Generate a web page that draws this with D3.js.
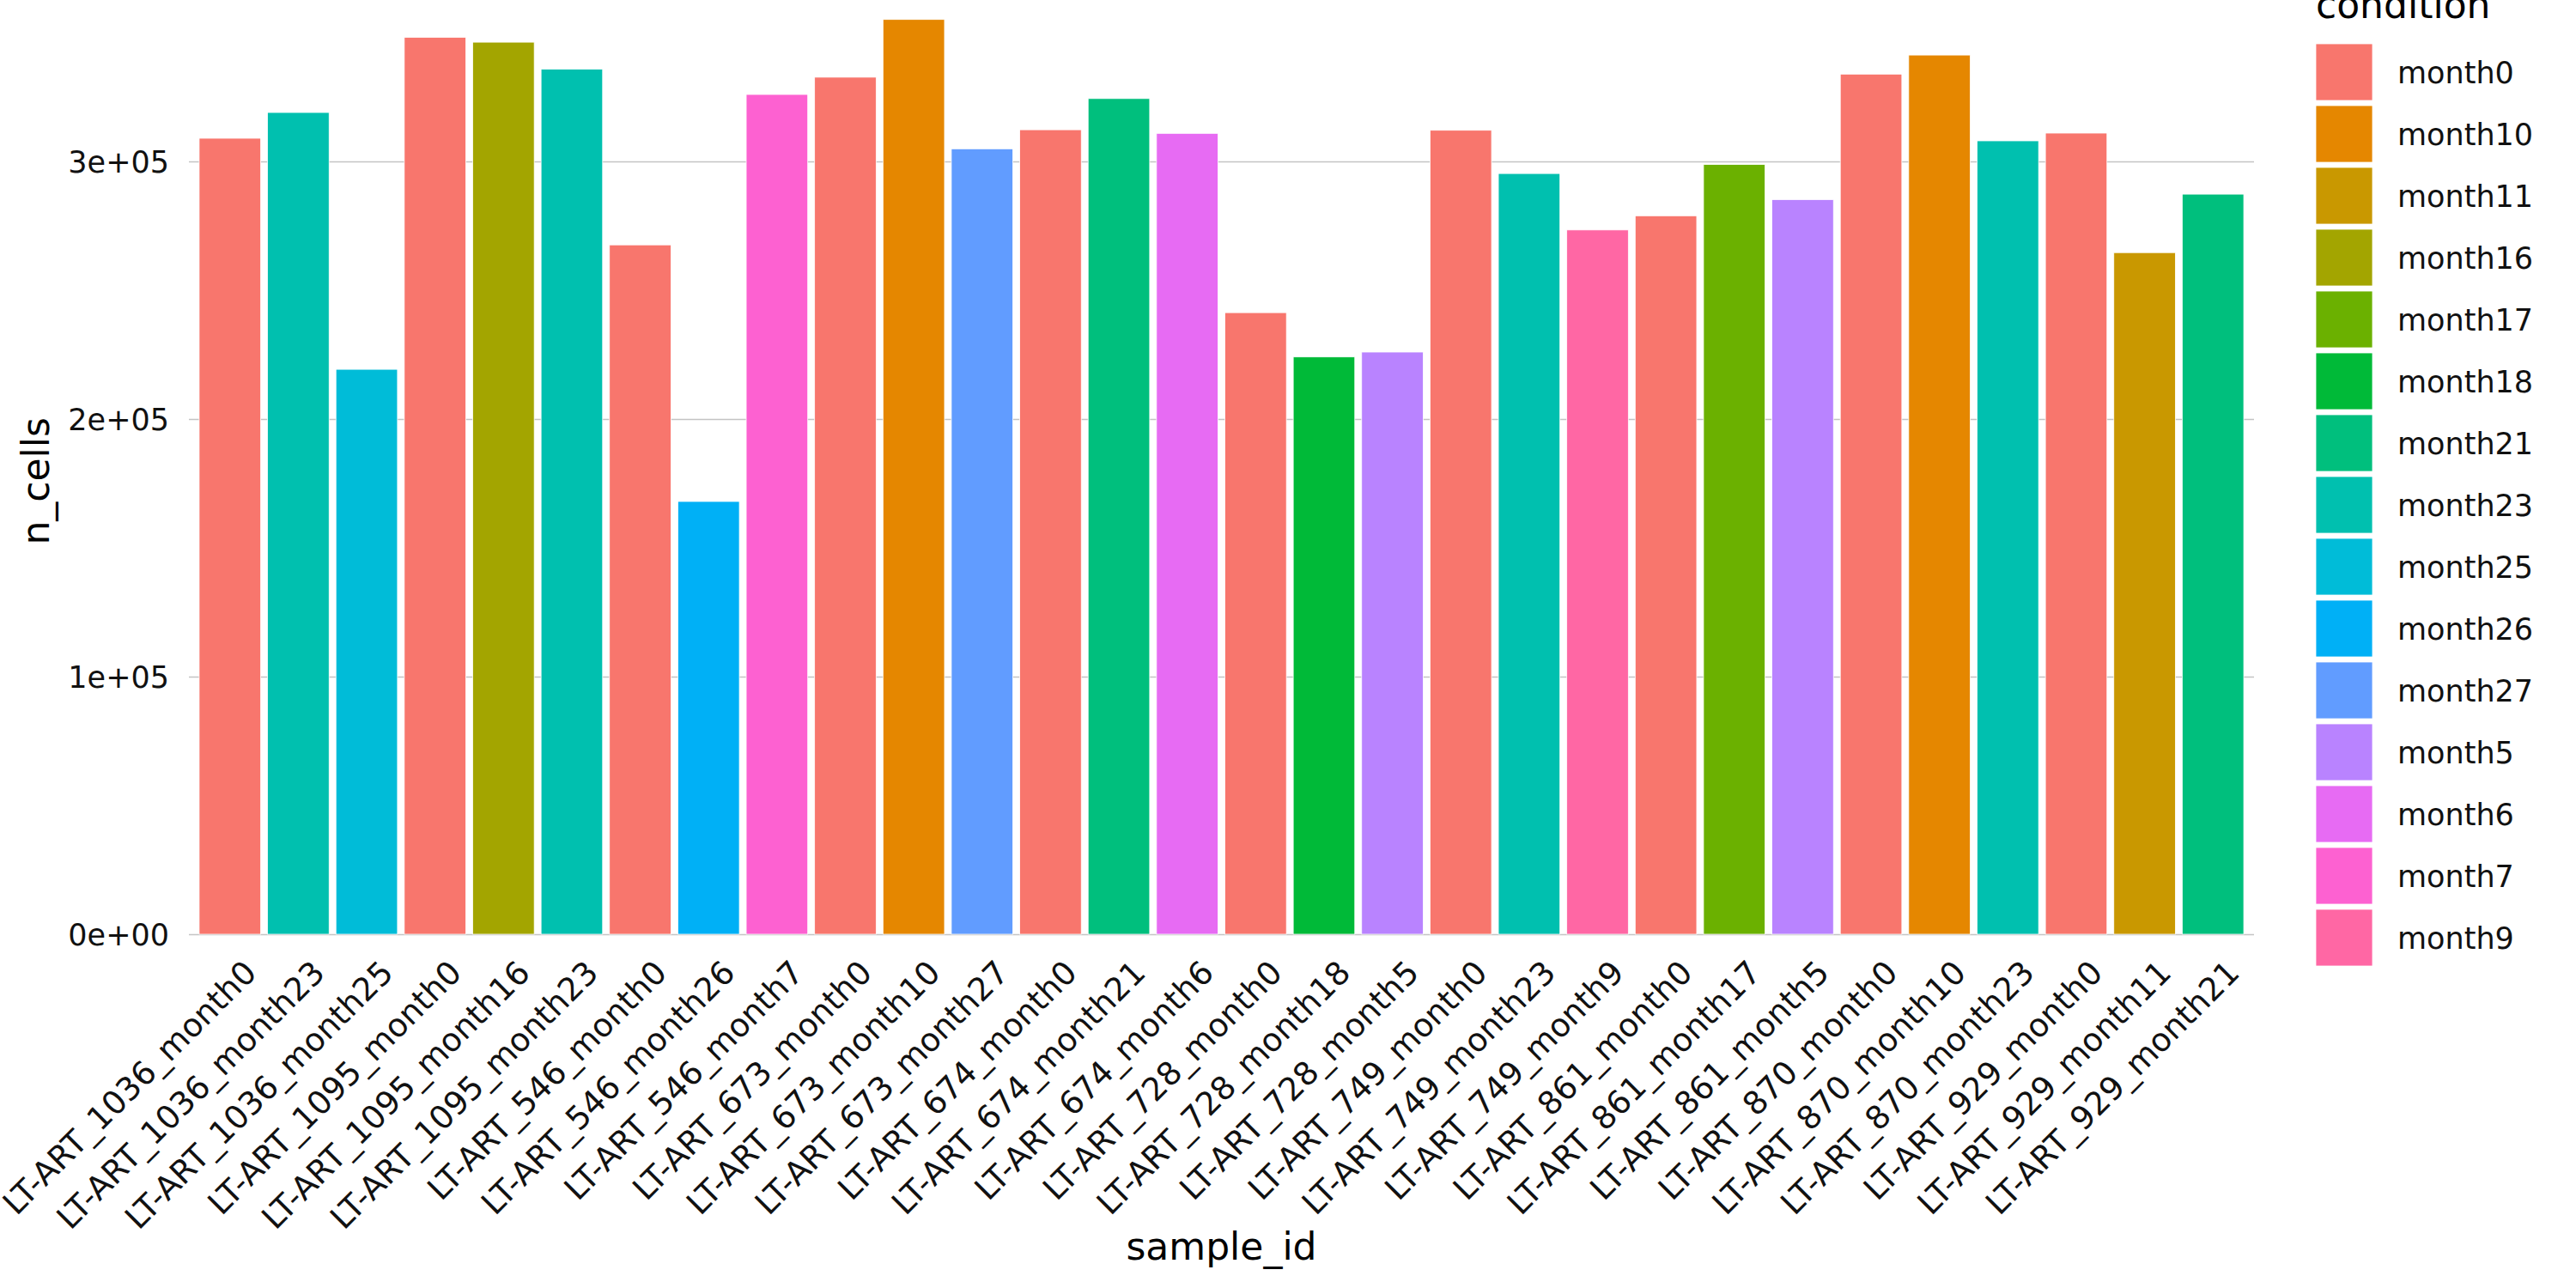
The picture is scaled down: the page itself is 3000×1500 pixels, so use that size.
<!DOCTYPE html>
<html>
<head>
<meta charset="utf-8">
<script src="https://cdn.jsdelivr.net/npm/d3@7"></script>
<style>
  body { margin: 0; background: #fff; }
  text { font-family: "DejaVu Sans", sans-serif; }
</style>
</head>
<body>
<svg id="chart" width="3000" height="1500"></svg>
<script>
// chart data
const sampleIds = [
  'LT-ART_1036_month0', 'LT-ART_1036_month23', 'LT-ART_1036_month25',
  'LT-ART_1095_month0', 'LT-ART_1095_month16', 'LT-ART_1095_month23',
  'LT-ART_546_month0', 'LT-ART_546_month26', 'LT-ART_546_month7',
  'LT-ART_673_month0', 'LT-ART_673_month10', 'LT-ART_673_month27',
  'LT-ART_674_month0', 'LT-ART_674_month21', 'LT-ART_674_month6',
  'LT-ART_728_month0', 'LT-ART_728_month18', 'LT-ART_728_month5',
  'LT-ART_749_month0', 'LT-ART_749_month23', 'LT-ART_749_month9',
  'LT-ART_861_month0', 'LT-ART_861_month17', 'LT-ART_861_month5',
  'LT-ART_870_month0', 'LT-ART_870_month10', 'LT-ART_870_month23',
  'LT-ART_929_month0', 'LT-ART_929_month11', 'LT-ART_929_month21'
];

const sampleConditions = [
  'month0', 'month23', 'month25',
  'month0', 'month16', 'month23',
  'month0', 'month26', 'month7',
  'month0', 'month10', 'month27',
  'month0', 'month21', 'month6',
  'month0', 'month18', 'month5',
  'month0', 'month23', 'month9',
  'month0', 'month17', 'month5',
  'month0', 'month10', 'month23',
  'month0', 'month11', 'month21'
];

const nCells = [
  309000, 319000, 219300,
  348200, 346300, 335800,
  267600, 168000, 326000,
  332700, 355100, 304900,
  312300, 324400, 310900,
  241300, 224100, 226000,
  312100, 295300, 273400,
  278900, 298800, 285200,
  333900, 341300, 308000,
  311000, 264600, 287300
];

const conditionLevels = [
  'month0', 'month10', 'month11', 'month16', 'month17', 'month18', 'month21',
  'month23', 'month25', 'month26', 'month27', 'month5', 'month6', 'month7', 'month9'
];

const conditionColors = [
  '#F8766D', '#E58700', '#C99800', '#A3A500', '#6BB100', '#00BA38', '#00BF7D',
  '#00C0AF', '#00BCD8', '#00B0F6', '#619CFF', '#B983FF', '#E76BF3', '#FD61D1', '#FF67A4'
];

const yTickValues = [0, 100000, 200000, 300000];
const yTickLabels = ['0e+00', '1e+05', '2e+05', '3e+05'];

const data = sampleIds.map((id, i) => ({
  sample_id: id,
  condition: sampleConditions[i],
  n_cells: nCells[i]
}));

const svg = d3.select('#chart');

const panel = { left: 220, right: 2625, top: 22.7, bottom: 1088 };

const x = d3.scaleBand()
  .domain(sampleIds)
  .range([panel.left, panel.right])
  .paddingInner(0.1)
  .paddingOuter(0.15);

const y = d3.scaleLinear()
  .domain([0, d3.max(nCells)])
  .range([panel.bottom, panel.top]);

const color = d3.scaleOrdinal()
  .domain(conditionLevels)
  .range(conditionColors);

// horizontal grid lines
svg.append('g')
  .attr('transform', `translate(${panel.left},0)`)
  .call(d3.axisLeft(y).tickValues(yTickValues)
    .tickSize(-(panel.right - panel.left)).tickFormat(''))
  .call(g => g.select('.domain').remove())
  .call(g => g.selectAll('line').attr('stroke', '#C4C4C4').attr('stroke-width', 1.6));

// bars
svg.append('g')
  .selectAll('rect')
  .data(data)
  .enter().append('rect')
  .attr('x', d => x(d.sample_id))
  .attr('y', d => y(d.n_cells))
  .attr('width', x.bandwidth())
  .attr('height', d => y(0) - y(d.n_cells))
  .attr('fill', d => color(d.condition))
  .attr('stroke', '#fff')
  .attr('stroke-width', 0.8);

// y axis
svg.append('g')
  .attr('transform', `translate(${panel.left},0)`)
  .call(d3.axisLeft(y).tickValues(yTickValues)
    .tickSize(0).tickPadding(23)
    .tickFormat((d, i) => yTickLabels[i]))
  .call(g => g.select('.domain').remove())
  .call(g => g.selectAll('text')
    .attr('font-family', '"DejaVu Sans", sans-serif')
    .attr('font-size', 35)
    .attr('fill', '#111')
    .attr('dy', '0.36em'));

// x axis, rotated labels
svg.append('g')
  .attr('transform', `translate(0,${panel.bottom})`)
  .call(d3.axisBottom(x).tickSize(0))
  .call(g => g.select('.domain').remove())
  .call(g => g.selectAll('text')
    .attr('font-family', '"DejaVu Sans", sans-serif')
    .attr('font-size', 37.5)
    .attr('fill', '#111')
    .attr('x', 0).attr('y', 0).attr('dy', 0)
    .attr('text-anchor', 'end')
    .attr('transform', 'translate(33,47) rotate(-45)'));

// axis titles
svg.append('text')
  .attr('x', (panel.left + panel.right) / 2)
  .attr('y', 1467)
  .attr('text-anchor', 'middle')
  .attr('font-size', 44)
  .attr('fill', '#000')
  .text('sample_id');

svg.append('text')
  .attr('transform', `translate(57,${(panel.top + panel.bottom) / 2 + 5}) rotate(-90)`)
  .attr('text-anchor', 'middle')
  .attr('font-size', 44)
  .attr('fill', '#000')
  .text('n_cells');

// legend
const legend = svg.append('g').attr('transform', 'translate(2697,0)');

legend.append('text')
  .attr('x', 0)
  .attr('y', 21)
  .attr('font-size', 44)
  .attr('fill', '#000')
  .text('condition');

const keys = legend.selectAll('.key')
  .data(conditionLevels)
  .enter().append('g')
  .attr('class', 'key')
  .attr('transform', (d, i) => `translate(0,${51 + i * 72})`);

keys.append('rect')
  .attr('width', 66)
  .attr('height', 66)
  .attr('fill', d => color(d))
  .attr('stroke', '#fff')
  .attr('stroke-width', 0.8);

keys.append('text')
  .attr('x', 95)
  .attr('y', 46)
  .attr('font-size', 35)
  .attr('fill', '#111')
  .text(d => d);
</script>
</body>
</html>
